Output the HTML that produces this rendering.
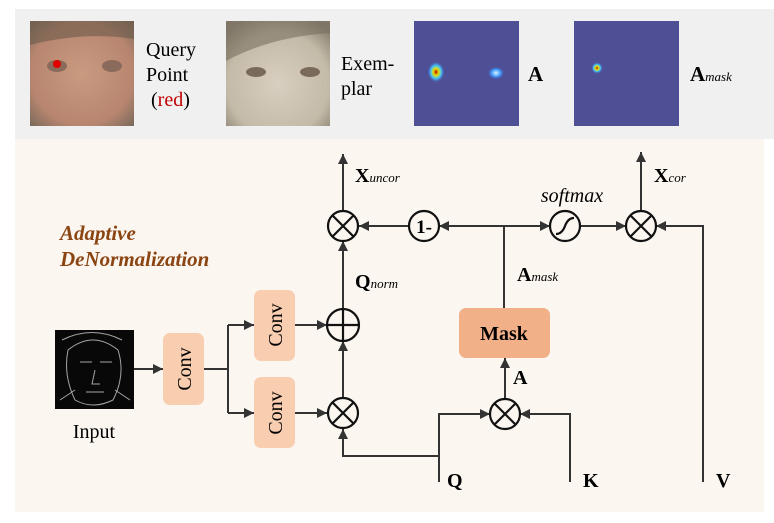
<!DOCTYPE html>
<html><head><meta charset="utf-8"><style>
html,body{margin:0;padding:0;background:#fff;}
svg{display:block;}
text{font-family:"Liberation Serif",serif;}
</style></head><body>
<svg width="774" height="523" viewBox="0 0 774 523" xmlns="http://www.w3.org/2000/svg">
<defs>
<marker id="ar" viewBox="0 0 10 10" refX="10" refY="5" markerWidth="11" markerHeight="10" orient="auto-start-reverse" markerUnits="userSpaceOnUse"><path d="M0,0 L10,5 L0,10 z" fill="#333"/></marker>
<radialGradient id="f1" cx="0.5" cy="0.5" r="0.7"><stop offset="0" stop-color="#c99a80"/><stop offset="0.7" stop-color="#b88670"/><stop offset="1" stop-color="#7a6a5a"/></radialGradient>
<radialGradient id="f2" cx="0.5" cy="0.6" r="0.7"><stop offset="0" stop-color="#d8cfc0"/><stop offset="0.7" stop-color="#c4baa8"/><stop offset="1" stop-color="#8a8070"/></radialGradient>
<radialGradient id="h1" cx="0.5" cy="0.5" r="0.5"><stop offset="0" stop-color="#c00000"/><stop offset="0.3" stop-color="#e8e000"/><stop offset="0.6" stop-color="#40c0ff"/><stop offset="1" stop-color="#4a4a9a" stop-opacity="0"/></radialGradient>
<radialGradient id="h2" cx="0.5" cy="0.5" r="0.5"><stop offset="0" stop-color="#e0f0ff"/><stop offset="0.5" stop-color="#40a0ff"/><stop offset="1" stop-color="#4a4a9a" stop-opacity="0"/></radialGradient>
</defs>
<rect x="15" y="9" width="759" height="130" fill="#f0f0f0"/>
<rect x="15" y="139" width="749" height="373" fill="#fbf6f0"/>
<rect x="30" y="21" width="104" height="105" fill="url(#f1)"/>
<path d="M30,21 h104 v18 q-50,-8 -104,6z" fill="#6a5a4a" opacity="0.6"/>
<ellipse cx="57" cy="66" rx="10" ry="6" fill="#8a6a5a"/><ellipse cx="112" cy="66" rx="10" ry="6" fill="#8a6a5a"/>
<circle cx="57" cy="64" r="4" fill="#e00000"/>
<text x="146" y="56" font-size="20">Query</text>
<text x="146" y="81" font-size="20">Point</text>
<text x="151" y="106" font-size="20">(<tspan fill="#c00000">red</tspan>)</text>
<rect x="226" y="21" width="104" height="105" fill="url(#f2)"/>
<path d="M226,21 h104 v12 q-60,4 -104,28z" fill="#7a7060" opacity="0.6"/>
<ellipse cx="256" cy="72" rx="10" ry="5" fill="#7a6a5a"/><ellipse cx="310" cy="72" rx="10" ry="5" fill="#7a6a5a"/>
<text x="341" y="70" font-size="20">Exem-</text>
<text x="341" y="95" font-size="20">plar</text>
<rect x="414" y="21" width="105" height="105" fill="#4f4f96"/>
<ellipse cx="436" cy="72" rx="9" ry="11" fill="url(#h1)"/>
<ellipse cx="496" cy="73" rx="9" ry="7" fill="url(#h2)"/>
<text x="528" y="81" font-size="21" font-weight="bold">A</text>
<rect x="574" y="21" width="105" height="105" fill="#4f4f96"/>
<ellipse cx="597" cy="68" rx="6" ry="6" fill="url(#h1)"/>
<text x="690" y="81" font-size="21" font-weight="bold">A<tspan font-size="13" font-weight="normal" font-style="italic">mask</tspan></text>
<text x="60" y="240" font-size="21" font-weight="bold" font-style="italic" fill="#8b4513">Adaptive</text>
<text x="60" y="266" font-size="21" font-weight="bold" font-style="italic" fill="#8b4513">DeNormalization</text>
<rect x="55" y="330" width="79" height="79" fill="#080808"/>
<g stroke="#ccc" stroke-width="1" fill="none" opacity="0.8">
<path d="M68,350 q25,-20 50,0 q8,25 -5,50 q-20,10 -38,0 q-12,-25 -7,-50z"/>
<path d="M80,362 h12 M100,362 h12 M95,370 l-3,14 h8 M86,392 h18"/>
<path d="M60,400 l15,-10 M130,400 l-15,-10 M62,340 q30,-15 60,0"/>
</g>
<text x="94" y="438" font-size="20" text-anchor="middle">Input</text>
<rect x="163" y="333" width="41" height="72" rx="7" fill="#f8cdb0"/>
<text transform="translate(191,369) rotate(-90)" font-size="20" text-anchor="middle">Conv</text>
<rect x="254" y="290" width="41" height="71" rx="7" fill="#f8cdb0"/>
<text transform="translate(282,325) rotate(-90)" font-size="20" text-anchor="middle">Conv</text>
<rect x="254" y="377" width="41" height="71" rx="7" fill="#f8cdb0"/>
<text transform="translate(282,413) rotate(-90)" font-size="20" text-anchor="middle">Conv</text>
<rect x="459" y="308" width="91" height="50" rx="7" fill="#f2b088"/>
<text x="504" y="340" font-size="20" font-weight="bold" text-anchor="middle">Mask</text>
<g stroke="#333" stroke-width="2" fill="none">
<line x1="134" y1="369" x2="163" y2="369" marker-end="url(#ar)"/>
<polyline points="204,369 228,369"/>
<polyline points="228,325 228,413"/>
<line x1="228" y1="325" x2="254" y2="325" marker-end="url(#ar)"/>
<line x1="228" y1="413" x2="254" y2="413" marker-end="url(#ar)"/>
<line x1="295" y1="325" x2="327" y2="325" marker-end="url(#ar)"/>
<line x1="295" y1="413" x2="327" y2="413" marker-end="url(#ar)"/>
<line x1="343" y1="397" x2="343" y2="341" marker-end="url(#ar)"/>
<line x1="343" y1="309" x2="343" y2="241" marker-end="url(#ar)"/>
<line x1="343" y1="211" x2="343" y2="154" marker-end="url(#ar)"/>
<polyline points="439,456 343,456 343,429" marker-end="url(#ar)"/>
<polyline points="439,482 439,414 490,414" marker-end="url(#ar)"/>
<polyline points="570,482 570,414 520,414" marker-end="url(#ar)"/>
<line x1="505" y1="399" x2="505" y2="358" marker-end="url(#ar)"/>
<line x1="504" y1="308" x2="504" y2="226"/>
<line x1="504" y1="226" x2="439" y2="226" marker-end="url(#ar)"/>
<line x1="409" y1="226" x2="359" y2="226" marker-end="url(#ar)"/>
<line x1="504" y1="226" x2="550" y2="226" marker-end="url(#ar)"/>
<line x1="580" y1="226" x2="626" y2="226" marker-end="url(#ar)"/>
<polyline points="703,482 703,226 656,226" marker-end="url(#ar)"/>
<line x1="641" y1="211" x2="641" y2="152" marker-end="url(#ar)"/>
</g>
<g stroke="#111" stroke-width="2.2" fill="#fbf6f0">
<circle cx="343" cy="226" r="15"/>
<circle cx="424" cy="226" r="15"/>
<circle cx="565" cy="226" r="15"/>
<circle cx="641" cy="226" r="15"/>
<circle cx="343" cy="325" r="16"/>
<circle cx="343" cy="413" r="15"/>
<circle cx="505" cy="414" r="15"/>
</g>
<g stroke="#111" stroke-width="2.2" fill="none">
<path d="M332.4,215.4 l21.2,21.2 M353.6,215.4 l-21.2,21.2"/>
<path d="M630.4,215.4 l21.2,21.2 M651.6,215.4 l-21.2,21.2"/>
<path d="M332.4,402.4 l21.2,21.2 M353.6,402.4 l-21.2,21.2"/>
<path d="M494.4,403.4 l21.2,21.2 M515.6,403.4 l-21.2,21.2"/>
<path d="M327,325 h32 M343,309 v32"/>
<path d="M556,234 q6,0 9,-8 q3,-8 9,-8"/>
</g>
<text x="424" y="233" font-size="19" font-weight="bold" text-anchor="middle">1-</text>
<text x="355" y="182" font-size="20" font-weight="bold">X<tspan font-size="13" font-weight="normal" font-style="italic">uncor</tspan></text>
<text x="654" y="182" font-size="20" font-weight="bold">X<tspan font-size="13" font-weight="normal" font-style="italic">cor</tspan></text>
<text x="572" y="202" font-size="20" font-style="italic" text-anchor="middle">softmax</text>
<text x="517" y="281" font-size="20" font-weight="bold">A<tspan font-size="13" font-weight="normal" font-style="italic">mask</tspan></text>
<text x="355" y="288" font-size="20" font-weight="bold">Q<tspan font-size="13" font-weight="normal" font-style="italic">norm</tspan></text>
<text x="513" y="384" font-size="20" font-weight="bold">A</text>
<text x="447" y="487" font-size="20" font-weight="bold">Q</text>
<text x="583" y="487" font-size="20" font-weight="bold">K</text>
<text x="716" y="487" font-size="20" font-weight="bold">V</text>
</svg>
</body></html>
